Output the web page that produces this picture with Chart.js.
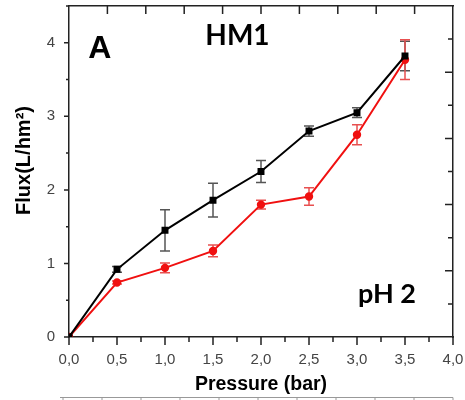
<!DOCTYPE html>
<html lang="en">
<head>
    <meta charset="UTF-8">
    <title>HM1 pH 2 — Flux vs Pressure</title>
    <script src="https://cdn.jsdelivr.net/npm/chart.js"></script>
    <style>
        html, body { margin: 0; padding: 0; background: #fff; }
        .chart-box { width: 465px; height: 400px; }
    </style>
</head>
<body>
    <div class="chart-box">
        <canvas id="fluxChart" width="465" height="400"></canvas>
    </div>
    <script>
        // values
        const pressure = [0, 0.5, 1.0, 1.5, 2.0, 2.5, 3.0, 3.5];
        const fluxBlack = [0, 0.92, 1.45, 1.86, 2.25, 2.80, 3.05, 3.82];
        const errBlack = [0, 0.04, 0.28, 0.23, 0.15, 0.07, 0.065, 0.20];
        const fluxRed = [0, 0.74, 0.94, 1.17, 1.80, 1.91, 2.75, 3.77];
        const errRed = [0, 0.02, 0.065, 0.08, 0.06, 0.12, 0.135, 0.27];

        const labels = [
            { text: 'A', x: 0.2, y: 3.79, font: 'bold 32px "Liberation Sans", Arial, sans-serif' },
            { text: 'HM1', x: 1.42, y: 3.97, font: 'bold 28px Lato, "Open Sans", sans-serif' },
            { text: 'pH 2', x: 3.01, y: 0.46, font: 'bold 27px Lato, "Open Sans", sans-serif' }
        ];

        const toPoints = (ys) => pressure.map((p, i) => ({ x: p, y: ys[i] }));
        const axisColor = '#222';
        const sans = '"Liberation Sans", Arial, sans-serif';
        const tickFont = { family: sans, size: 15 };

        // fixed box sizes, no extra room for overflowing end labels
        function fixBox(w, h) {
            return s => {
                if (w !== null) s.width = w;
                if (h !== null) s.height = h;
                s.paddingLeft = s.paddingRight = s.paddingTop = s.paddingBottom = 0;
            };
        }

        // error bars, drawn under the lines and markers
        const errorBars = {
            id: 'errorBars',
            beforeDatasetsDraw(chart) {
                const ctx = chart.ctx;
                const xs = chart.scales.x, ys = chart.scales.y;
                chart.data.datasets.forEach(ds => {
                    ctx.save();
                    ctx.strokeStyle = ds.errColor;
                    ctx.lineWidth = 1.5;
                    ds.data.forEach((pt, i) => {
                        const e = ds.errors[i];
                        if (!e) return;
                        const px = xs.getPixelForValue(pt.x);
                        const top = ys.getPixelForValue(pt.y + e);
                        const bot = ys.getPixelForValue(pt.y - e);
                        ctx.beginPath();
                        ctx.moveTo(px, top); ctx.lineTo(px, bot);
                        ctx.moveTo(px - 5, top); ctx.lineTo(px + 5, top);
                        ctx.moveTo(px - 5, bot); ctx.lineTo(px + 5, bot);
                        ctx.stroke();
                    });
                    ctx.restore();
                });
            }
        };

        // tick marks: outward on left/bottom, inward on top/right
        const tickMarks = {
            id: 'tickMarks',
            afterDraw(chart) {
                const ctx = chart.ctx;
                const { left, right, top, bottom } = chart.chartArea;
                const { x, y, x2, y2 } = chart.scales;
                ctx.save();
                ctx.strokeStyle = axisColor;
                ctx.lineWidth = 1.5;
                ctx.beginPath();
                for (let v = 0; v <= y.max + 1e-9; v += 0.5) {
                    const py = y.getPixelForValue(v);
                    const len = Number.isInteger(v) ? 5 : 3;
                    ctx.moveTo(left, py); ctx.lineTo(left - len, py);
                }
                for (let v = 0; v <= x.max + 1e-9; v += 0.25) {
                    const px = x.getPixelForValue(v);
                    const len = Math.abs(v * 2 - Math.round(v * 2)) < 1e-6 ? 8 : 5;
                    ctx.moveTo(px, bottom); ctx.lineTo(px, bottom + len);
                }
                for (let v = 1; v < x2.max; v++) {
                    const px = x2.getPixelForValue(v);
                    ctx.moveTo(px, top); ctx.lineTo(px, top + 8);
                }
                for (let v = 1; v < y2.max; v++) {
                    const py = y2.getPixelForValue(v);
                    const len = v % 2 ? 5 : 8;
                    ctx.moveTo(right, py); ctx.lineTo(right - len, py);
                }
                ctx.stroke();

                // grey rule cut off at the bottom of the picture
                ctx.strokeStyle = '#999';
                ctx.lineWidth = 1;
                ctx.beginPath();
                const ry = chart.height - 2.5;
                ctx.moveTo(left - 9, ry); ctx.lineTo(right, ry);
                for (let v = 0; v <= x2.max; v++) {
                    const px = x2.getPixelForValue(v) - 6 + v * 0.6;
                    ctx.moveTo(px, ry); ctx.lineTo(px, ry + 3);
                }
                ctx.stroke();
                ctx.restore();
            }
        };

        const panelText = {
            id: 'panelText',
            afterDraw(chart) {
                const ctx = chart.ctx;
                const { x, y } = chart.scales;
                ctx.save();
                ctx.fillStyle = '#000';
                ctx.textBaseline = 'alphabetic';
                ctx.textAlign = 'left';
                labels.forEach(l => {
                    ctx.font = l.font;
                    ctx.fillText(l.text, x.getPixelForValue(l.x), y.getPixelForValue(l.y));
                });

                // y axis title, sits a little above the middle of the axis
                ctx.translate(24, y.getPixelForValue(2.4));
                ctx.rotate(-Math.PI / 2);
                ctx.textAlign = 'center';
                ctx.textBaseline = 'middle';
                ctx.font = 'bold 20px ' + sans;
                ctx.fillText('Flux(L/hm²)', 0, 0);
                ctx.restore();
            }
        };

        new Chart(document.getElementById('fluxChart'), {
            type: 'line',
            data: {
                datasets: [
                    {
                        label: 'HM1',
                        data: toPoints(fluxBlack),
                        errors: errBlack,
                        errColor: '#555',
                        borderColor: '#000',
                        backgroundColor: '#000',
                        borderWidth: 2,
                        pointStyle: 'rect',
                        pointRadius: 3.5,
                        tension: 0
                    },
                    {
                        label: 'pH 2',
                        data: toPoints(fluxRed),
                        errors: errRed,
                        errColor: '#e85050',
                        borderColor: '#f01010',
                        backgroundColor: '#f01010',
                        borderWidth: 2,
                        pointStyle: 'circle',
                        pointRadius: 3.2,
                        tension: 0
                    }
                ]
            },
            options: {
                responsive: false,
                animation: false,
                layout: { padding: 0 },
                plugins: {
                    legend: { display: false },
                    tooltip: { enabled: false }
                },
                scales: {
                    x: {
                        type: 'linear',
                        position: 'bottom',
                        min: 0,
                        max: 4,
                        afterFit: fixBox(null, 63),
                        grid: { display: false, drawTicks: false },
                        border: { display: true, color: axisColor, width: 1.5 },
                        ticks: {
                            stepSize: 0.5,
                            padding: 14,
                            color: '#444',
                            font: tickFont,
                            maxRotation: 0,
                            callback: v => v.toFixed(1).replace('.', ',')
                        },
                        title: {
                            display: true,
                            text: 'Pressure (bar)',
                            color: '#000',
                            font: { family: sans, size: 19.5, weight: 'bold' },
                            padding: { top: 0, bottom: 4 }
                        }
                    },
                    y: {
                        type: 'linear',
                        position: 'left',
                        min: 0,
                        max: 4.5,
                        afterFit: fixBox(69, null),
                        grid: { display: false, drawTicks: false },
                        border: { display: true, color: axisColor, width: 1.5 },
                        ticks: {
                            stepSize: 1,
                            padding: 14,
                            color: '#444',
                            font: tickFont,
                            callback: v => Number.isInteger(v) ? v : ''
                        }
                    },
                    x2: {
                        type: 'linear',
                        position: 'top',
                        min: 0,
                        max: 10,
                        afterFit: fixBox(null, 5),
                        grid: { display: false, drawTicks: false },
                        border: { display: true, color: axisColor, width: 1.5 },
                        ticks: { display: false }
                    },
                    y2: {
                        type: 'linear',
                        position: 'right',
                        min: 0,
                        max: 10,
                        afterFit: fixBox(12, null),
                        grid: { display: false, drawTicks: false },
                        border: { display: true, color: axisColor, width: 1.5 },
                        ticks: { display: false }
                    }
                }
            },
            plugins: [errorBars, tickMarks, panelText]
        });
    </script>
</body>
</html>
